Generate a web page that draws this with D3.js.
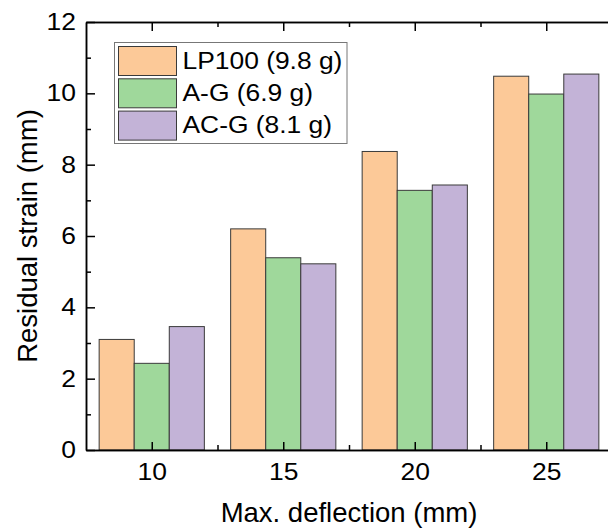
<!DOCTYPE html>
<html>
<head>
<meta charset="utf-8">
<script src="https://cdn.jsdelivr.net/npm/d3@7"></script>
<style>
  body { margin: 0; background: #fff; }
  svg text { font-family: Arial, "Liberation Sans", sans-serif; fill: #000; }
</style>
</head>
<body>
<div id="chart"></div>
<script>
// DATA
const categories = [10, 15, 20, 25];
const seriesNames = ['LP100 (9.8 g)', 'A-G (6.9 g)', 'AC-G (8.1 g)'];
const lp100 = [3.10, 6.20, 8.37, 10.48];
const ag = [2.43, 5.39, 7.28, 9.98];
const acg = [3.46, 5.22, 7.43, 10.54];
const yTicks = [0, 2, 4, 6, 8, 10, 12];
const colors = ['#FCC998', '#9FD89B', '#C3B3D7'];

const W = 608, H = 529;
const m = { top: 22, right: -4, bottom: 79, left: 86 };
const w = W - m.left - m.right;
const h = H - m.top - m.bottom;

const svg = d3.select('#chart').append('svg')
  .attr('width', W).attr('height', H);

const g = svg.append('g').attr('transform', `translate(${m.left},${m.top})`);

// SCALES
const xScale = d3.scaleLinear().domain([7.5, 27.5]).range([0, w]);
const yScale = d3.scaleLinear().domain([0, 12]).range([h, 0]);

const groupW = 4;
const barW = groupW / seriesNames.length;
const all = [lp100, ag, acg];

// BARS
all.forEach((vals, si) => {
  g.selectAll('.bar' + si)
    .data(vals)
    .enter()
    .append('rect')
    .attr('x', (d, i) => xScale(categories[i] - groupW / 2 + si * barW))
    .attr('y', (d) => yScale(d))
    .attr('width', xScale(barW) - xScale(0))
    .attr('height', (d) => h - yScale(d))
    .attr('fill', colors[si])
    .attr('stroke', '#3a3a3a')
    .attr('stroke-width', 1);
});

// AXES
const styleAxis = (sel) => {
  sel.selectAll('.domain').attr('stroke', '#000').attr('stroke-width', 1.5);
  sel.selectAll('.tick line').attr('stroke', '#000').attr('stroke-width', 1.5);
  sel.selectAll('text').attr('font-size', 23).attr('fill', '#000')
    .attr('transform', 'scale(1.15,1)');
};

g.append('g')
  .call(d3.axisLeft(yScale).tickValues(yTicks).tickSize(-9).tickPadding(8.7).tickSizeOuter(0))
  .call(styleAxis);
g.append('g')
  .call(d3.axisLeft(yScale).tickValues([1, 3, 5, 7, 9, 11]).tickSize(-5).tickFormat('').tickSizeOuter(0))
  .call(styleAxis);

g.append('g')
  .attr('transform', `translate(0,${h})`)
  .call(d3.axisBottom(xScale).tickValues(categories).tickSize(-8).tickPadding(13.7).tickSizeOuter(0))
  .call(styleAxis);
g.append('g')
  .attr('transform', `translate(0,${h})`)
  .call(d3.axisBottom(xScale).tickValues([12.5, 17.5, 22.5]).tickSize(-5).tickFormat('').tickSizeOuter(0))
  .call(styleAxis);

// TOP AXIS
g.append('g')
  .call(d3.axisTop(xScale).tickValues(categories).tickSize(-9).tickFormat('').tickSizeOuter(0))
  .call(styleAxis);
g.append('g')
  .call(d3.axisTop(xScale).tickValues([12.5, 17.5, 22.5]).tickSize(-5).tickFormat('').tickSizeOuter(0))
  .call(styleAxis);

// RIGHT FRAME
g.append('line').attr('x1', w).attr('x2', w).attr('y1', 0).attr('y2', h)
  .attr('stroke', '#000').attr('stroke-width', 1.5);

// LABELS
svg.append('text')
  .attr('transform', `translate(37,${m.top + h / 2}) rotate(-90)`)
  .attr('text-anchor', 'middle')
  .attr('font-size', 27.5)
  .text('Residual strain (mm)');

svg.append('text')
  .attr('x', m.left + xScale(17.5))
  .attr('y', 521.5)
  .attr('text-anchor', 'middle')
  .attr('font-size', 27.5)
  .text('Max. deflection (mm)');

// LEGEND
const lg = svg.append('g').attr('transform', 'translate(114.5,42.5)');
lg.append('rect')
  .attr('width', 232.5).attr('height', 101)
  .attr('fill', '#fff').attr('stroke', '#777').attr('stroke-width', 1);

seriesNames.forEach((name, i) => {
  const row = lg.append('g').attr('transform', `translate(4,${4 + i * 32.3})`);
  row.append('rect')
    .attr('width', 58).attr('height', 29)
    .attr('fill', colors[i]).attr('stroke', '#3a3a3a').attr('stroke-width', 1);
  row.append('text')
    .attr('transform', 'translate(64,22) scale(1.1,1)')
    .attr('font-size', 24)
    .text(name);
});
</script>
</body>
</html>
